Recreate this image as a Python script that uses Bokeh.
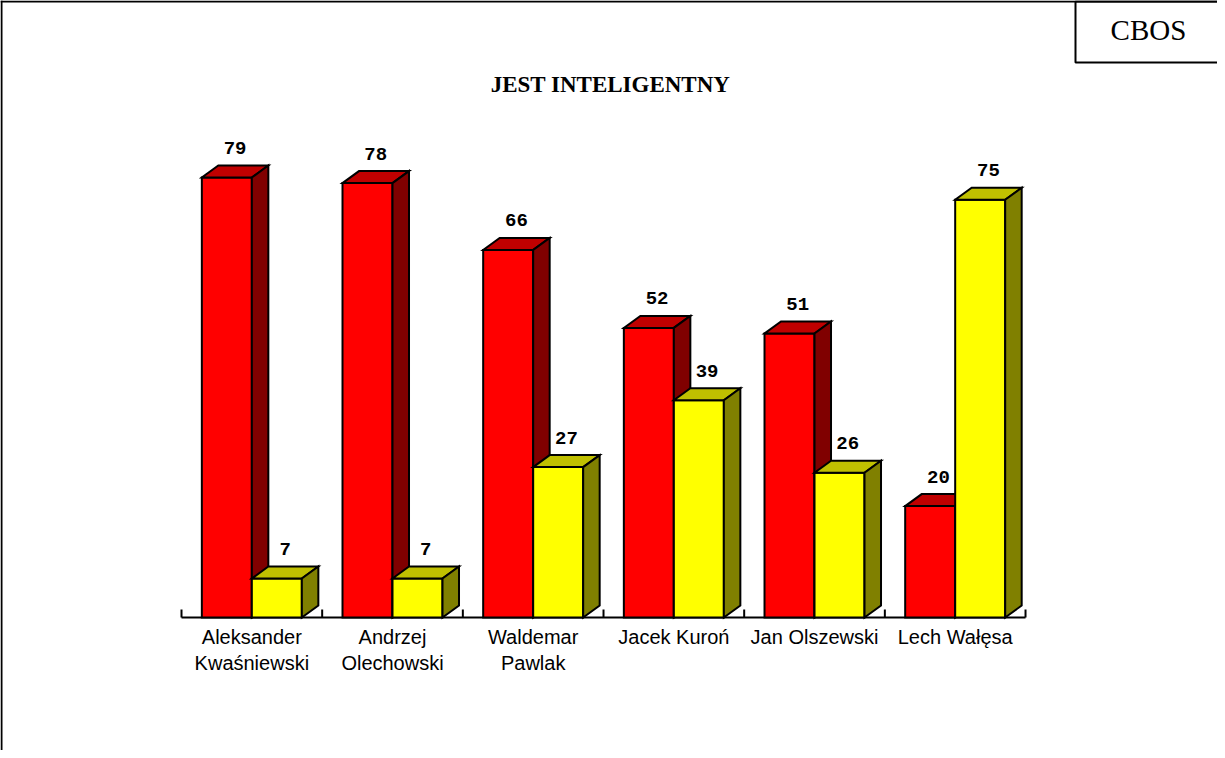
from bokeh.plotting import figure
from bokeh.models import Range1d, Span
from bokeh.core.properties import value
from bokeh.embed import file_html
from bokeh.resources import INLINE

# ---- data ----
categories = ["Aleksander\nKwaśniewski", "Andrzej\nOlechowski", "Waldemar\nPawlak",
              "Jacek Kuroń", "Jan Olszewski", "Lech Wałęsa"]
red_values = [79, 78, 66, 52, 51, 20]
yellow_values = [7, 7, 27, 39, 26, 75]
title_text = "JEST INTELIGENTNY"
logo_text = "CBOS"

# ---- layout (screen-pixel geometry) ----
W, H = 1217, 750
OX, OY = 8, 8            # page margin
BASE_SX = 189            # screen x of first category boundary
BASE_SY = 625            # screen y of the zero line
U = 140.67               # px per category
K = 440.0 / 79.0         # px per value unit

def sx(x_screen):
    return (x_screen - BASE_SX) / U

def sy(y_screen):
    return (BASE_SY - y_screen) / K

x_start, x_end = sx(OX), sx(OX + W)
y_start, y_end = sy(OY + H), sy(OY)

bar_w = 50.0 / U
dx = 16.5 / U
dy = 12.0 / K

p = figure(width=W, height=H, output_backend="svg", toolbar_location=None,
           x_range=Range1d(x_start, x_end), y_range=Range1d(y_start, y_end),
           x_axis_type=None, y_axis_type=None, min_border=0,
           background_fill_color="white", border_fill_color="white")
p.grid.visible = False
p.outline_line_color = None

# ---- page frame lines ----
p.add_layout(Span(location=sx(OX + 1), dimension="height", line_color="black", line_width=2))
p.add_layout(Span(location=sy(OY + 1), dimension="width", line_color="black", line_width=2))

# CBOS box
p.quad(left=[sx(1083)], right=[sx(1240)], top=[sy(OY + 1)], bottom=[sy(70)],
       fill_color="white", line_color="black", line_width=2)
p.text(x=[sx(1156)], y=[sy(37)], text=[logo_text], text_align="center",
       text_baseline="middle", text_font=value("Liberation Serif"),
       text_font_size="29px", text_color="black")

# title
p.text(x=[sx(618)], y=[sy(92)], text=[title_text], text_align="center",
       text_baseline="middle", text_font=value("Liberation Serif"),
       text_font_style="bold", text_font_size="23px", text_color="black")

# ---- category axis ----
n = len(categories)
p.segment(x0=[0], y0=[0], x1=[n], y1=[0], line_color="black", line_width=2)
p.segment(x0=list(range(n + 1)), y0=[0] * (n + 1), x1=list(range(n + 1)),
          y1=[8.0 / K] * (n + 1), line_color="black", line_width=2)

line1 = [c.split("\n")[0] for c in categories]
line2 = [c.split("\n")[1] if "\n" in c else "" for c in categories]
centers = [i + 0.5 for i in range(n)]
p.text(x=centers, y=[sy(644)] * n, text=line1, text_align="center",
       text_baseline="middle", text_font=value("Liberation Sans"),
       text_font_size="20px", text_color="black")
p.text(x=centers, y=[sy(670)] * n, text=line2, text_align="center",
       text_baseline="middle", text_font=value("Liberation Sans"),
       text_font_size="20px", text_color="black")

# ---- 3D bars ----
def bar_polys(lefts, vals):
    fx, fy, tx, ty, sx_, sy_ = [], [], [], [], [], []
    for x0, v in zip(lefts, vals):
        x1 = x0 + bar_w
        fx.append([x0, x1, x1, x0]); fy.append([0, 0, v, v])
        tx.append([x0, x1, x1 + dx, x0 + dx]); ty.append([v, v, v + dy, v + dy])
        sx_.append([x1, x1 + dx, x1 + dx, x1]); sy_.append([0, dy, v + dy, v])
    return fx, fy, tx, ty, sx_, sy_

def draw_series(lefts, vals, front, top, side):
    fx, fy, tx, ty, sxs, sys_ = bar_polys(lefts, vals)
    kw = dict(line_color="black", line_width=2, line_join="miter")
    p.patches(fx, fy, fill_color=front, **kw)
    p.patches(tx, ty, fill_color=top, **kw)
    p.patches(sxs, sys_, fill_color=side, **kw)
    p.text(x=[l + bar_w / 2 + dx / 2 for l in lefts],
           y=[v + dy + 17.5 / K for v in vals],
           text=[str(v) for v in vals], text_align="center",
           text_baseline="middle", text_font=value("Liberation Mono"),
           text_font_style="bold", text_font_size="19px", text_color="black")

red_lefts = [c - bar_w for c in centers]
yellow_lefts = [c for c in centers]
draw_series(red_lefts, red_values, "#FF0000", "#C00000", "#800000")
draw_series(yellow_lefts, yellow_values, "#FFFF00", "#C0C000", "#808000")

open("out.html", "w").write(file_html(p, INLINE))
